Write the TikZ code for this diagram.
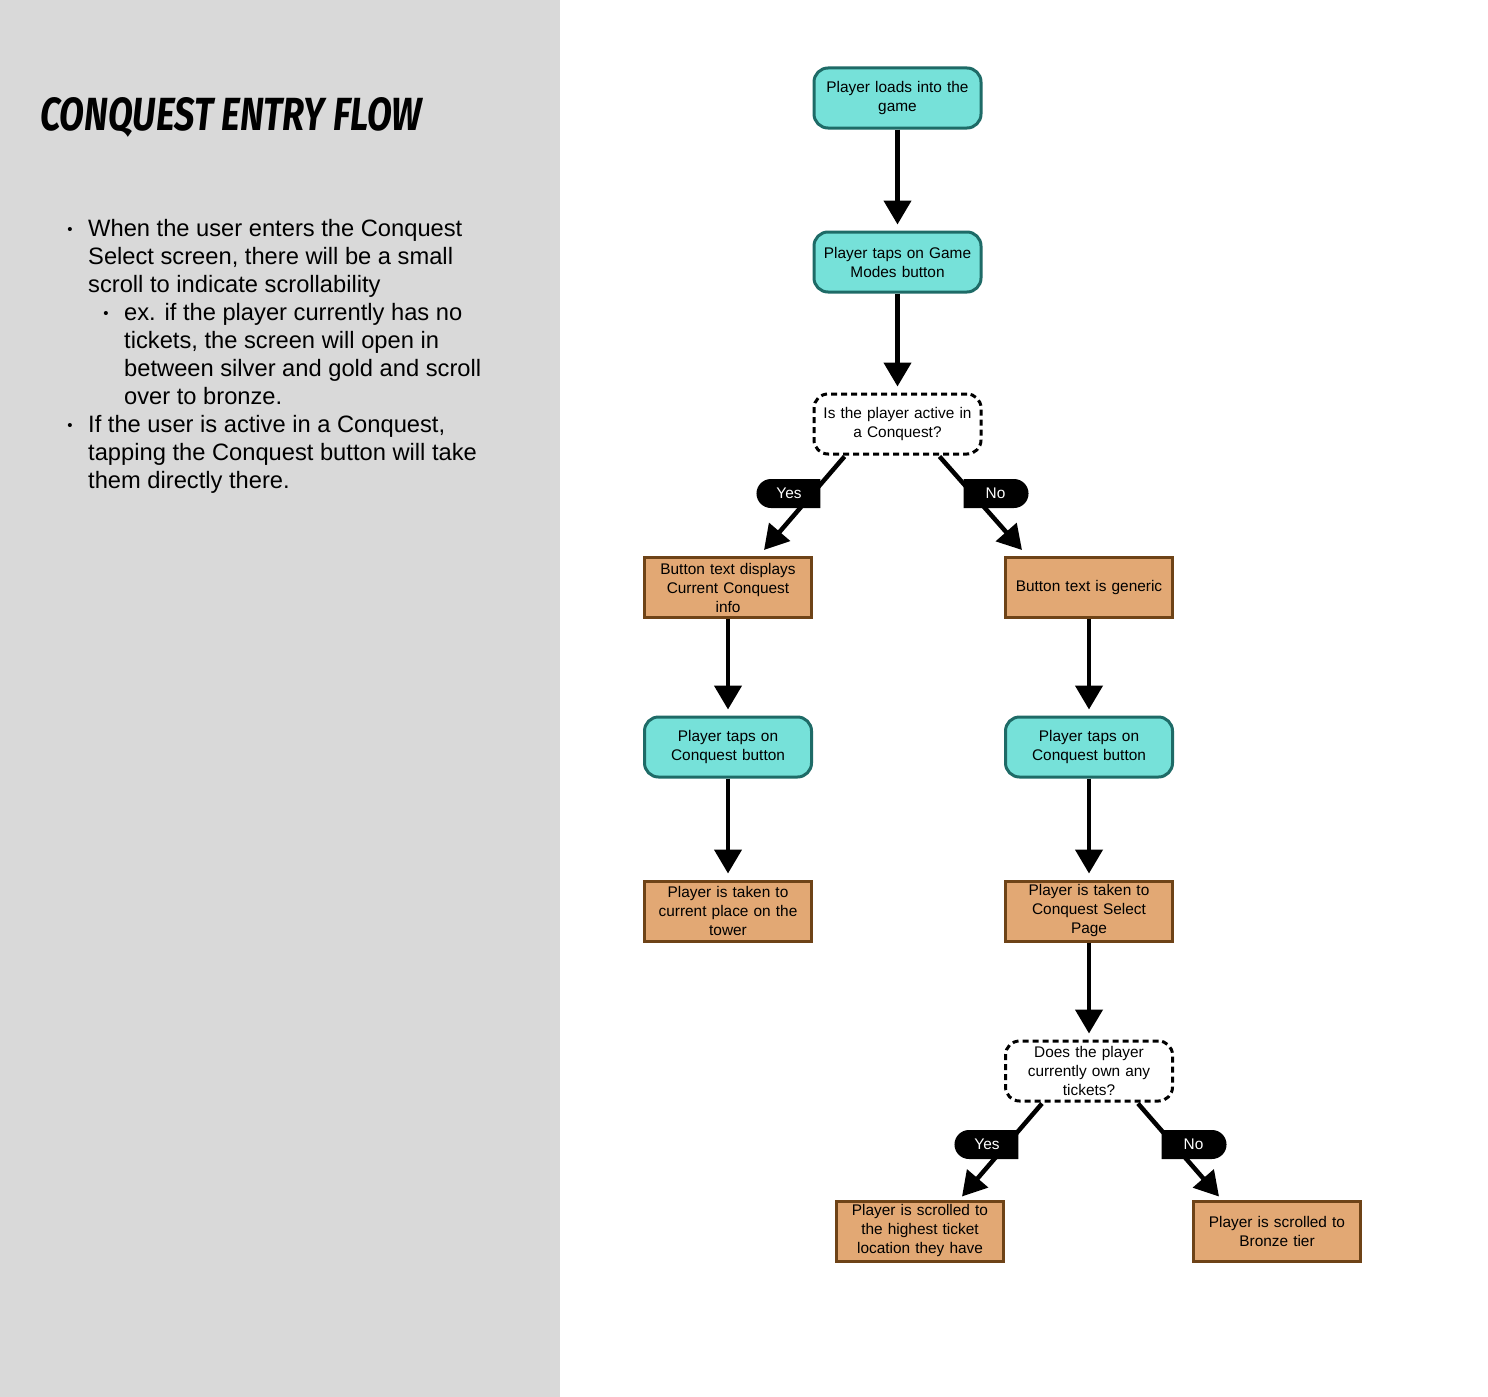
\documentclass[tikz,border=0pt]{standalone}
\usepackage{fontspec}
\usepackage{graphicx}
\setmainfont{Liberation Sans}
\newfontfamily\titlefont{Fira Sans}
\usetikzlibrary{arrows.meta,shapes.misc,calc}
\definecolor{panelgray}{HTML}{D9D9D9}
\definecolor{tealfill}{HTML}{76E1D9}
\definecolor{tealline}{HTML}{1E6B67}
\definecolor{orfill}{HTML}{E2A874}
\definecolor{orline}{HTML}{6E4317}
\begin{document}
\begin{tikzpicture}[x=1pt,y=-1pt,
  boxbase/.style={minimum width=167pt,minimum height=60pt,text width=164pt,align=center,inner sep=0pt,
    font=\fontsize{15.4}{19}\selectfont,line width=3pt},
  tealbox/.style={boxbase,draw=tealline,fill=tealfill,rounded corners=14pt},
  orbox/.style={boxbase,draw=orline,fill=orfill},
  askbox/.style={boxbase,draw=black,fill=white,rounded corners=14pt,dash pattern=on 6pt off 4pt},
  flowarrow/.style={line width=4.5pt,-{Triangle[width=27pt,length=24pt]},shorten >=6pt},
  diagarrow/.style={line width=4.5pt,-{Triangle[width=27pt,length=24pt]}},
  yeslabel/.style={rounded rectangle,rounded rectangle right arc=none,fill=black,text=white,
    minimum width=64pt,minimum height=29pt,inner sep=0pt,font=\fontsize{15.4}{18}\selectfont},
  nolabel/.style={rounded rectangle,rounded rectangle left arc=none,fill=black,text=white,
    minimum width=65pt,minimum height=29pt,inner sep=0pt,font=\fontsize{15.4}{18}\selectfont},
  bodytext/.style={anchor=base west,inner sep=0pt,font=\fontsize{23.7}{28}\selectfont},
  bulletdot/.style={anchor=base,inner sep=0pt,font=\fontsize{15}{28}\selectfont}
]
\useasboundingbox (0,0) rectangle (1488,1397);
\fill[white] (0,0) rectangle (1488,1397);
\fill[panelgray] (0,0) rectangle (560,1397);

% title
\node[anchor=base west,inner sep=0pt] (title) at (40,130)
  {\resizebox{382pt}{33pt}{\titlefont\bfseries\itshape CONQUEST ENTRY FLOW}};

% bullet text
\node[bulletdot] (b1dot) at (70,234) {•};
\node[bodytext] (l1) at (88,236) {When the user enters the Conquest};
\node[bodytext] (l2) at (88,264) {Select screen, there will be a small};
\node[bodytext] (l3) at (88,292) {scroll to indicate scrollability};
\node[bulletdot] (b2dot) at (106,318) {•};
\node[bodytext] (l4) at (124,320) {ex. if the player currently has no};
\node[bodytext] (l5) at (124,348) {tickets, the screen will open in};
\node[bodytext] (l6) at (124,376) {between silver and gold and scroll};
\node[bodytext] (l7) at (124,404) {over to bronze.};
\node[bulletdot] (b3dot) at (70,430) {•};
\node[bodytext] (l8) at (88,432) {If the user is active in a Conquest,};
\node[bodytext] (l9) at (88,460) {tapping the Conquest button will take};
\node[bodytext] (l10) at (88,488) {them directly there.};

% flow nodes
\node[tealbox] (n1) at (897.5,98) {Player loads into the\\game};
\node[tealbox] (n2) at (897.5,262) {Player taps on Game\\Modes button};
\node[askbox] (d1) at (897.5,424) {Is the player active in\\a Conquest?};
\node[orbox] (bl) at (728,587.5) {Button text displays\\Current Conquest\\info};
\node[orbox] (br) at (1089,587.5) {Button text is generic};
\node[tealbox] (tl) at (728,747) {Player taps on\\Conquest button};
\node[tealbox] (tr) at (1089,747) {Player taps on\\Conquest button};
\node[orbox] (pl) at (728,911) {Player is taken to\\current place on the\\tower};
\node[orbox] (pr) at (1089,911) {Player is taken to\\Conquest Select\\Page};
\node[askbox] (d2) at (1089,1071) {Does the player\\currently own any\\tickets?};
\node[orbox] (sl) at (920,1231) {Player is scrolled to\\the highest ticket\\location they have};
\node[orbox] (sr) at (1277,1231) {Player is scrolled to\\Bronze tier};

% connectors
\draw[flowarrow] (n1.south) -- (n2.north);
\draw[flowarrow] (n2.south) -- (d1.north);
\draw[flowarrow] (bl.south) -- (tl.north);
\draw[flowarrow] (br.south) -- (tr.north);
\draw[flowarrow] (tl.south) -- (pl.north);
\draw[flowarrow] (tr.south) -- (pr.north);
\draw[flowarrow] (pr.south) -- (d2.north);
\draw[diagarrow] ($(d1.south)+(-53,1)$) -- ($(bl.north)+(36,-6)$);
\draw[diagarrow] ($(d1.south)+(42,1)$) -- ($(br.north)+(-67,-6)$);
\draw[diagarrow] ($(d2.south)+(-47,1)$) -- ($(sl.north)+(42,-3)$);
\draw[diagarrow] ($(d2.south)+(49,1)$) -- ($(sr.north)+(-58,-3)$);

% labels
\node[yeslabel] (y1) at (789,493.5) {Yes};
\node[nolabel] (no1) at (995.5,493.5) {No};
\node[yeslabel] (y2) at (987,1144.5) {Yes};
\node[nolabel] (no2) at (1193.5,1144.5) {No};
\end{tikzpicture}
\end{document}
